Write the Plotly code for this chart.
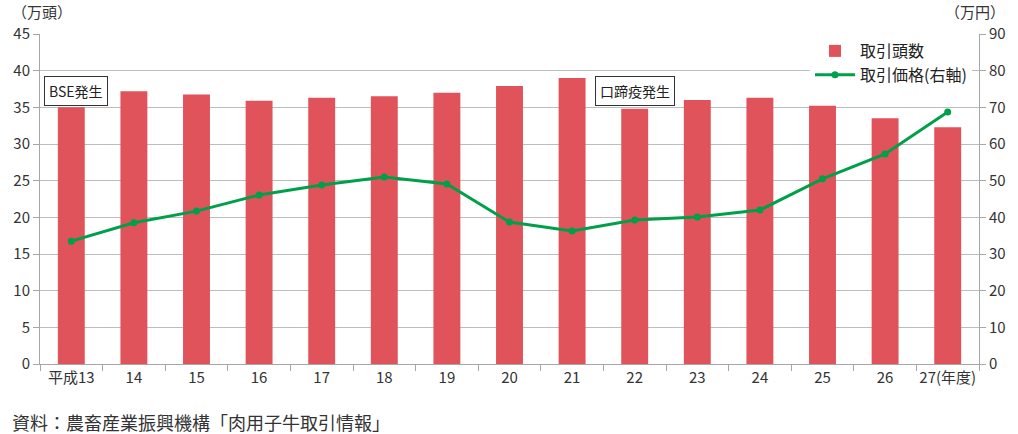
import plotly.graph_objects as go

years = ["平成13", "14", "15", "16", "17", "18", "19", "20", "21", "22", "23", "24", "25", "26", "27(年度)"]
heads = [35.0, 37.2, 36.75, 35.9, 36.3, 36.5, 37.0, 37.9, 39.0, 34.8, 36.0, 36.3, 35.2, 33.5, 32.3]
prices = [33.5, 38.5, 41.7, 46.1, 48.8, 51.0, 49.1, 38.7, 36.3, 39.3, 40.1, 42.0, 50.5, 57.3, 68.7]
left_ticks = [0, 5, 10, 15, 20, 25, 30, 35, 40, 45]
right_ticks = [0, 10, 20, 30, 40, 50, 60, 70, 80, 90]

FONT = "Noto Sans CJK JP, Noto Sans, sans-serif"
RED = "#E0535B"
GREEN = "#00A04A"
GRID = "#BDBDBD"

xs = list(range(len(years)))

fig = go.Figure()
fig.add_trace(go.Bar(x=xs, y=heads, name="取引頭数", marker=dict(color=RED, line=dict(width=0)),
                     width=0.43, yaxis="y"))
fig.add_trace(go.Scatter(x=xs, y=prices, name="取引価格(右軸)", mode="lines+markers",
                         line=dict(color=GREEN, width=3), marker=dict(color=GREEN, size=7),
                         yaxis="y2"))

fig.update_layout(
    width=1018, height=434,
    margin=dict(l=40, r=30, t=34, b=70),
    plot_bgcolor="white", paper_bgcolor="white",
    font=dict(family=FONT, size=15, color="#333333"),
    showlegend=True,
    legend=dict(x=0.82, y=1.0, xanchor="left", yanchor="top", bgcolor="white",
                font=dict(size=16, color="#222222"), itemwidth=40, tracegroupgap=2),
    xaxis=dict(range=[-0.5, len(years) - 0.5], tickmode="array", tickvals=xs, ticktext=years,
               showgrid=False, showline=True, linecolor="#A6A6A6", linewidth=1,
               ticks="", zeroline=False, tickfont=dict(size=15)),
    xaxis2=dict(overlaying="x", range=[-0.5, len(years) - 0.5], tickmode="array",
                tickvals=[i - 0.5 for i in range(len(years) + 1)], ticktext=[""] * (len(years) + 1),
                ticks="outside", ticklen=6, tickcolor="#A6A6A6", showgrid=False,
                showline=False, zeroline=False, side="bottom", anchor="y"),
    yaxis=dict(range=[0, 45], tickvals=left_ticks, showgrid=True, gridcolor=GRID, gridwidth=1,
               showline=True, linecolor="#A6A6A6", ticks="outside", ticklen=6, tickcolor="#A6A6A6",
               zeroline=False, tickfont=dict(size=15)),
    yaxis2=dict(range=[0, 90], tickvals=right_ticks, overlaying="y", side="right", showgrid=False,
                showline=True, linecolor="#A6A6A6", ticks="outside", ticklen=6, tickcolor="#A6A6A6",
                zeroline=False, tickfont=dict(size=15)),
    bargap=0.57,
)

# dummy trace to display boundary ticks on x axis
fig.add_trace(go.Scatter(x=[None], y=[None], xaxis="x2", showlegend=False, hoverinfo="skip"))

fig.add_annotation(text="（万頭）", xref="paper", yref="paper", x=-0.032, y=1.0, yshift=23,
                   xanchor="left", yanchor="middle", showarrow=False, font=dict(size=15, color="#333333"))
fig.add_annotation(text="（万円）", xref="paper", yref="paper", x=1.03, y=1.0, yshift=23,
                   xanchor="right", yanchor="middle", showarrow=False, font=dict(size=15, color="#333333"))
fig.add_annotation(text="BSE発生", x=0.08, y=37.2, xref="x", yref="y", showarrow=False,
                   bordercolor="#333333", borderwidth=1, bgcolor="white", borderpad=4,
                   font=dict(size=14, color="#222222"))
fig.add_annotation(text="口蹄疫発生", x=9.0, y=37.2, xref="x", yref="y", showarrow=False,
                   bordercolor="#333333", borderwidth=1, bgcolor="white", borderpad=4,
                   font=dict(size=14, color="#222222"))
fig.add_annotation(text="資料：農畜産業振興機構「肉用子牛取引情報」", xref="paper", yref="paper",
                   x=-0.032, y=0, yshift=-58, xanchor="left", yanchor="middle", showarrow=False,
                   font=dict(size=18, color="#333333"))

fig.write_html("out.html")
